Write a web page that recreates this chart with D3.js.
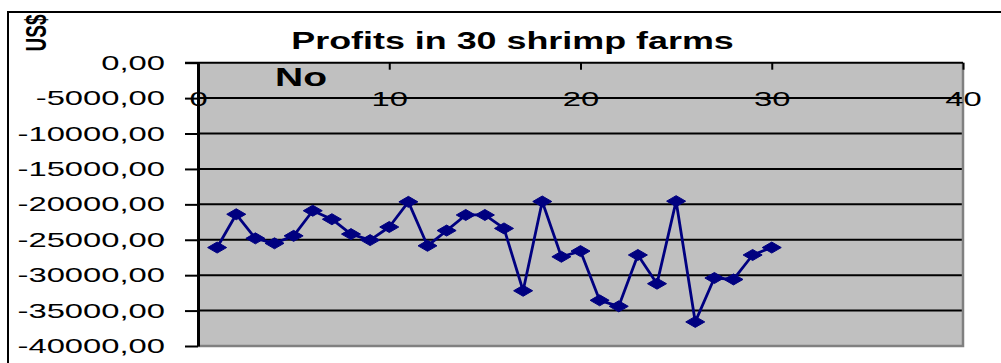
<!DOCTYPE html>
<html>
<head>
<meta charset="utf-8">
<script src="https://cdn.jsdelivr.net/npm/d3@7/dist/d3.min.js"></script>
<style>
  html, body { margin: 0; padding: 0; background: #fff; }
  svg { display: block; font-family: "Liberation Sans", Arial, sans-serif; }
</style>
</head>
<body>
<svg id="chart" width="1001" height="363"></svg>
<script>
// Farm number (1..30) and the profit of each farm in US$
const farms = [1, 2, 3, 4, 5, 6, 7, 8, 9, 10, 11, 12, 13, 14, 15,
               16, 17, 18, 19, 20, 21, 22, 23, 24, 25, 26, 27, 28, 29, 30];
const profits = [-26100, -21400, -24800, -25500, -24450, -20900, -22100, -24200, -25050, -23200,
                 -19650, -25850, -23700, -21500, -21500, -23400, -32200, -19600, -27400, -26600,
                 -33550, -34400, -27150, -31200, -19550, -36600, -30400, -30600, -27150, -26100];
const xTicks = [0, 10, 20, 30, 40];
const yTicks = [0, -5000, -10000, -15000, -20000, -25000, -30000, -35000, -40000];

const titleText = "Profits in 30 shrimp farms";
const xTitle = "No";
const yTitle = "US$";

// Text in this chart is drawn horizontally widened
const SX = 1.56;

const svg = d3.select("#chart");
const plot = { left: 198, right: 963, top: 62.7, bottom: 346 };

const x = d3.scaleLinear().domain([0, 40]).range([plot.left, plot.right]);
const y = d3.scaleLinear().domain([0, -40000]).range([plot.top, plot.bottom]);
const fmt = d => d.toFixed(2).replace(".", ",");

// outer chart frame (top and left edges)
svg.append("path")
  .attr("d", "M8,363V12H1001")
  .attr("fill", "none").attr("stroke", "#000").attr("stroke-width", 2);

// plot area
svg.append("rect")
  .attr("x", plot.left).attr("y", plot.top)
  .attr("width", plot.right - plot.left).attr("height", plot.bottom - plot.top)
  .attr("fill", "#c0c0c0");

// horizontal gridlines
svg.append("g").selectAll("line")
  .data(yTicks.filter(v => v !== 0 && v !== -40000))
  .join("line")
  .attr("x1", plot.left).attr("x2", plot.right)
  .attr("y1", d => y(d)).attr("y2", d => y(d))
  .attr("stroke", "#000").attr("stroke-width", 2);

// right and bottom plot borders
svg.append("path")
  .attr("d", `M${plot.right},${plot.top}V${plot.bottom}H${plot.left}`)
  .attr("fill", "none").attr("stroke", "#808080").attr("stroke-width", 2.5);

// y axis
const yAxis = svg.append("g")
  .attr("transform", `translate(${plot.left},0)`)
  .call(d3.axisLeft(y).tickValues(yTicks).tickFormat(fmt).tickSize(13).tickSizeOuter(0));
yAxis.select(".domain").attr("stroke", "#000").attr("stroke-width", 3);
yAxis.selectAll(".tick line").attr("stroke", "#000").attr("stroke-width", 2);
yAxis.selectAll(".tick text")
  .attr("x", null).attr("dy", null)
  .attr("transform", `translate(-33,6.5) scale(${SX},1)`)
  .attr("text-anchor", "end")
  .attr("fill", "#000")
  .style("font-size", "21px")
  .style("font-family", "'Liberation Sans', Arial, sans-serif");

// x axis along the top edge, ticks pointing into the plot
const xAxis = svg.append("g")
  .attr("transform", `translate(0,${plot.top})`)
  .call(d3.axisBottom(x).tickValues(xTicks).tickSize(7).tickSizeOuter(0));
xAxis.select(".domain").attr("stroke", "#000").attr("stroke-width", 2)
  .attr("d", `M${plot.left - 13},0H${plot.right}`);
xAxis.selectAll(".tick line").attr("stroke", "#000").attr("stroke-width", 2);
xAxis.selectAll(".tick text")
  .attr("y", null).attr("dy", null)
  .attr("transform", `translate(0,${y(-5000) - plot.top + 8}) scale(${SX},1)`)
  .attr("text-anchor", "middle")
  .attr("fill", "#000")
  .style("font-size", "21px")
  .style("font-family", "'Liberation Sans', Arial, sans-serif");

// profit line
const series = farms.map((f, i) => ({ farm: f, profit: profits[i] }));
svg.append("path")
  .datum(series)
  .attr("fill", "none")
  .attr("stroke", "#000080")
  .attr("stroke-width", 2.8)
  .attr("stroke-linejoin", "round")
  .attr("d", d3.line().x(d => x(d.farm)).y(d => y(d.profit)));

// diamond markers
svg.append("g").selectAll("path")
  .data(series)
  .join("path")
  .attr("transform", d => `translate(${x(d.farm)},${y(d.profit)})`)
  .attr("d", "M-9.5,0L0,-5.5L9.5,0L0,5.5Z")
  .attr("fill", "#000080")
  .attr("stroke", "#000080")
  .attr("stroke-width", 1);

// titles
svg.append("text")
  .attr("transform", `translate(512.5,49) scale(${SX},1)`)
  .attr("text-anchor", "middle")
  .style("font-size", "23px").style("font-weight", "bold")
  .text(titleText);

svg.append("text")
  .attr("transform", `translate(275,85.7) scale(${SX},1)`)
  .style("font-size", "25px").style("font-weight", "bold")
  .text(xTitle);

svg.append("text")
  .attr("transform", `translate(46,33) scale(${SX},1) rotate(-90)`)
  .attr("text-anchor", "middle")
  .style("font-size", "19px").style("font-weight", "bold")
  .text(yTitle);
</script>
</body>
</html>
